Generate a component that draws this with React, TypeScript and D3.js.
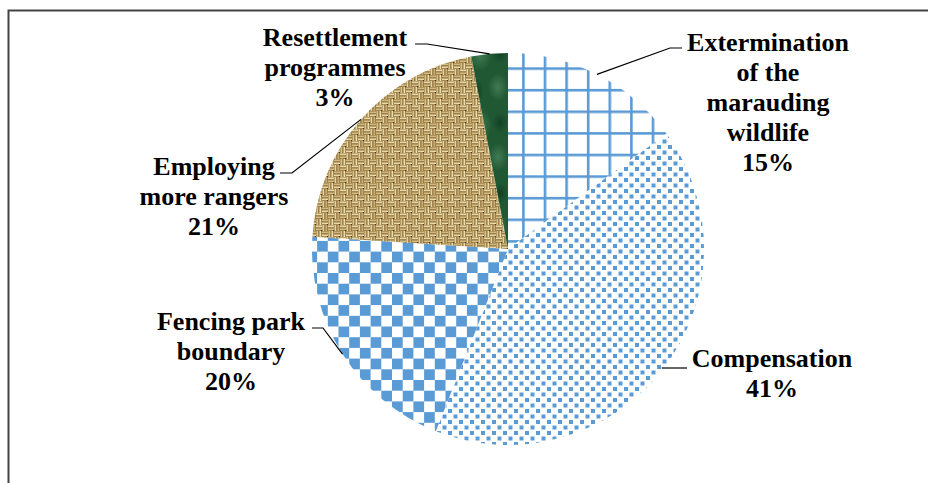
import React from "react";
import * as d3 from "d3";

// slices clockwise from 12 o'clock
const categories = [
  "Extermination of the marauding wildlife",
  "Compensation",
  "Fencing park boundary",
  "Employing more rangers",
  "Resettlement programmes",
];
const values = [15, 41, 20, 21, 3];
const labelLines = [
  ["Extermination", "of the", "marauding", "wildlife"],
  ["Compensation"],
  ["Fencing park", "boundary"],
  ["Employing", "more rangers"],
  ["Resettlement", "programmes"],
];
const fills = ["url(#grid)", "url(#dots)", "url(#check)", "url(#burlap)", "url(#marble)"];

// label placement (centre x, first baseline, leader start x/y, elbow x)
const labelLayout = [
  { x: 768, y: 51, lx: 682, ly: 48, ex: 670, flat: false },
  { x: 772, y: 367, lx: 687, ly: 368, ex: 687, flat: true },
  { x: 231, y: 330, lx: 312, ly: 328, ex: 323, flat: false },
  { x: 214, y: 175, lx: 280, ly: 173, ex: 292, flat: false },
  { x: 335, y: 46, lx: 415, ly: 44, ex: 427, flat: false },
];

const BLUE = "#5b9bd5";
const SERIF = "'Liberation Serif', 'Times New Roman', 'DejaVu Serif', serif";

const Patterns = () => (
  <defs>
    <pattern id="grid" patternUnits="userSpaceOnUse" width="21.6" height="21.6" x="510.9" y="55.9">
      <rect width="21.6" height="21.6" fill="white" />
      <rect x="0" y="0" width="2.6" height="21.6" fill={BLUE} />
      <rect x="0" y="0" width="21.6" height="2.6" fill={BLUE} />
    </pattern>
    <pattern id="dots" patternUnits="userSpaceOnUse" width="11" height="11">
      <rect width="11" height="11" fill="white" />
      <rect x="0.5" y="0.5" width="4" height="4" fill={BLUE} />
      <rect x="6" y="6" width="4" height="4" fill={BLUE} />
    </pattern>
    <pattern id="check" patternUnits="userSpaceOnUse" width="21.4" height="21.4" x="312" y="238">
      <rect width="21.4" height="21.4" fill="white" />
      <rect x="0" y="0" width="10.7" height="10.7" fill={BLUE} />
      <rect x="10.7" y="10.7" width="10.7" height="10.7" fill={BLUE} />
    </pattern>
    <pattern id="burlap" patternUnits="userSpaceOnUse" width="12" height="12">
      <rect width="12" height="12" fill="#8f733f" />
      <rect x="0" y="0.5" width="6" height="1.7" fill="#ead9a6" />
      <rect x="0" y="3.5" width="6" height="1.7" fill="#d6bd82" />
      <rect x="6.5" y="0" width="1.7" height="6" fill="#e6d29c" />
      <rect x="9.5" y="0" width="1.7" height="6" fill="#c9ad72" />
      <rect x="0.5" y="6" width="1.7" height="6" fill="#d9c288" />
      <rect x="3.5" y="6" width="1.7" height="6" fill="#ecdcaa" />
      <rect x="6" y="6.5" width="6" height="1.7" fill="#d2b87c" />
      <rect x="6" y="9.5" width="6" height="1.7" fill="#ead9a6" />
      <rect x="5" y="5" width="1.2" height="1.2" fill="#4a3418" />
      <rect x="11" y="11" width="1" height="1" fill="#4a3418" />
    </pattern>
    <radialGradient id="mg">
      <stop offset="0" stopColor="#4f8a60" stopOpacity="0.7" />
      <stop offset="1" stopColor="#4f8a60" stopOpacity="0" />
    </radialGradient>
    <radialGradient id="md">
      <stop offset="0" stopColor="#0f3a1e" stopOpacity="0.8" />
      <stop offset="1" stopColor="#0f3a1e" stopOpacity="0" />
    </radialGradient>
    <pattern id="marble" patternUnits="userSpaceOnUse" width="40" height="70">
      <rect width="40" height="70" fill="#1f5833" />
      <ellipse cx="12" cy="16" rx="12" ry="16" fill="url(#mg)" />
      <ellipse cx="30" cy="48" rx="10" ry="14" fill="url(#mg)" />
      <ellipse cx="32" cy="14" rx="8" ry="10" fill="url(#md)" />
      <ellipse cx="8" cy="52" rx="8" ry="12" fill="url(#md)" />
    </pattern>
  </defs>
);

const App = () => {
  const width = 928;
  const height = 483;
  const cx = 508;
  const cy = 249;
  const r = 196;

  const pie = d3.pie<number>().sort(null).value(d => d)(values);
  const arc = d3.arc<d3.PieArcDatum<number>>().innerRadius(0).outerRadius(r);

  return (
    <div style={{ position: "fixed", left: 0, top: 0 }}>
      <svg width={width} height={height} style={{ display: "block", background: "white" }}>
        <Patterns />
        <path d="M8.5,483 L8.5,10.5 L928,10.5" fill="none" stroke="#444" strokeWidth="2" />
        <g transform={`translate(${cx},${cy})`}>
          {pie.map((d, i) => (
            <path key={categories[i]} d={arc(d) || ""} fill={fills[i]} />
          ))}
        </g>
        {pie.map((d, i) => {
          const lay = labelLayout[i];
          const mid = (d.startAngle + d.endAngle) / 2;
          let px = cx + r * Math.sin(mid);
          let py = cy - r * Math.cos(mid);
          if (lay.flat) {
            py = lay.ly;
            px = cx + Math.sqrt(r * r - (py - cy) * (py - cy)) - 2;
          }
          return (
            <path key={"l" + i}
              d={`M${lay.lx},${lay.ly} L${lay.ex},${lay.ly} L${px},${py}`}
              fill="none" stroke="black" strokeWidth="1.2" />
          );
        })}
        {labelLines.map((lines, i) => {
          const lay = labelLayout[i];
          const all = [...lines, `${values[i]}%`];
          return (
            <text key={"t" + i} x={lay.x} y={lay.y} textAnchor="middle"
              style={{ fontFamily: SERIF, fontWeight: 700, fontSize: "26px" }} fill="black">
              {all.map((s, j) => (
                <tspan key={j} x={lay.x} dy={j === 0 ? 0 : 30}>{s}</tspan>
              ))}
            </text>
          );
        })}
      </svg>
    </div>
  );
};

export default App;
